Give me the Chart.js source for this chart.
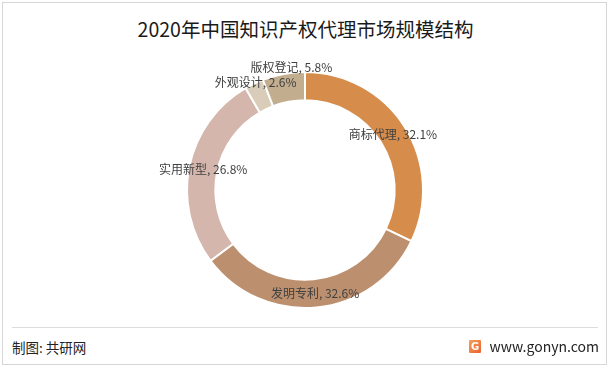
<!DOCTYPE html>
<html>
<head>
<meta charset="utf-8">
<script src="https://cdn.jsdelivr.net/npm/chart.js@4/dist/chart.umd.min.js"></script>
<style>
  html, body { margin: 0; padding: 0; background: #fff; }
  body { width: 611px; height: 370px; position: relative; overflow: hidden;
         font-family: "Noto Sans CJK SC", "Noto Sans", sans-serif; }
  .frame { position: absolute; left: 2px; top: 2px; width: 605px; height: 363px;
           border: 1px solid #d6d6d6; box-sizing: border-box; }
  .title { position: absolute; left: 0; width: 611px; top: 16px; text-align: center;
           font-size: 19.5px; color: #1a1a1a; line-height: 26px; }
  .sep { position: absolute; left: 12px; width: 586px; top: 327px; height: 1px; background: #dcdcdc; }
  .src { position: absolute; left: 12px; top: 337px; font-size: 13.5px; color: #222; line-height: 20px; }
  .site { position: absolute; right: 12px; top: 335px; font-size: 14px; color: #222; line-height: 22px; }
  .logo { position: absolute; left: 469px; top: 340px; width: 12px; height: 13px;
          background: linear-gradient(135deg, #f5a05a, #e8622c); color: #fff;
          font: bold 10px "DejaVu Sans", sans-serif; text-align: center; line-height: 13px; border-radius: 1px; }
  .chartbox { position: absolute; left: 105px; top: 40px; width: 400px; height: 300px; }
</style>
</head>
<body>
<div class="frame"></div>
<div class="title">2020年中国知识产权代理市场规模结构</div>
<div class="chartbox"><canvas id="pie"></canvas></div>
<div class="sep"></div>
<div class="src">制图: 共研网</div>
<div class="logo">G</div>
<div class="site">www.gonyn.com</div>
<script>
  // Market share by agency type, 2020 (%)
  const categories = ['商标代理', '发明专利', '实用新型', '外观设计', '版权登记'];
  const shares = [32.1, 32.6, 26.8, 2.6, 5.8];
  const colors = ['#D68C4B', '#BC906F', '#D4B6AC', '#D9CCB8', '#C2AD8E'];

  // Draw "name, value%" labels on the ring; small slices go just outside.
  const ringLabels = {
    id: 'ringLabels',
    afterDatasetsDraw: function (chart) {
      const ctx = chart.ctx;
      const meta = chart.getDatasetMeta(0);
      ctx.save();
      ctx.font = '12px "Noto Sans CJK SC", sans-serif';
      ctx.fillStyle = '#404040';
      ctx.textAlign = 'center';
      ctx.textBaseline = 'middle';
      meta.data.forEach(function (arc, i) {
        const p = arc.getProps(['x', 'y', 'startAngle', 'endAngle', 'innerRadius', 'outerRadius'], true);
        const mid = (p.startAngle + p.endAngle) / 2;
        const small = shares[i] < 10;
        let r = (p.innerRadius + p.outerRadius) / 2;
        if (small) {
          r = p.outerRadius + (shares[i] < 4 ? 1 : 7);
        }
        let x = p.x + Math.cos(mid) * r;
        let y = p.y + Math.sin(mid) * r;
        if (small) {
          x += shares[i] < 4 ? 2 : 9;
        }
        ctx.fillText(categories[i] + ', ' + shares[i].toFixed(1) + '%', x, y);
      });
      ctx.restore();
    }
  };

  new Chart(document.getElementById('pie'), {
    type: 'doughnut',
    data: {
      labels: categories,
      datasets: [{
        data: shares,
        backgroundColor: colors,
        borderColor: '#ffffff',
        borderWidth: 2
      }]
    },
    options: {
      responsive: true,
      maintainAspectRatio: false,
      animation: false,
      cutout: '76%',
      layout: { padding: 31 },
      plugins: {
        legend: { display: false },
        tooltip: { enabled: false }
      }
    },
    plugins: [ringLabels]
  });
</script>
</body>
</html>
